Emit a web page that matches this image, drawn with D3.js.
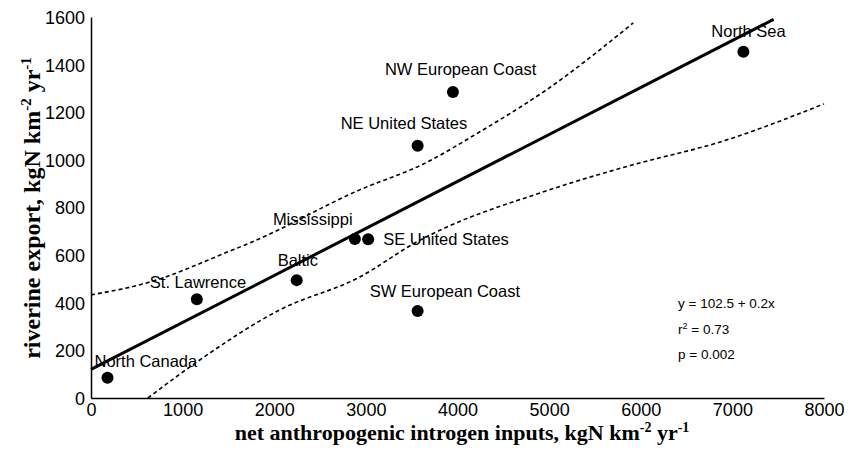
<!DOCTYPE html>
<html>
<head>
<meta charset="utf-8">
<script src="https://cdn.jsdelivr.net/npm/d3@7"></script>
<style>
  html, body { margin: 0; padding: 0; background: #fff; }
  svg { display: block; }
</style>
</head>
<body>
<svg id="chart" width="850" height="458"></svg>
<script>
// ---- data ----
const regions = ["North Canada", "St. Lawrence", "Baltic", "Mississippi", "SE United States",
                 "SW European Coast", "NE United States", "NW European Coast", "North Sea"];
const nInputs = [180, 1155, 2245, 2880, 3025, 3565, 3565, 3950, 7120];
const nExport = [85, 415, 495, 668, 667, 365, 1059, 1285, 1454];

const fitX = [0, 7450];
const fitY = [120, 1590];

const upperX = [0, 643, 1515, 1733, 2932, 3629, 4240, 4970, 5918];
const upperY = [433, 487, 617, 651, 874, 983, 1117, 1294, 1575];
const lowerX = [621, 1155, 2060, 2932, 3553, 5003, 5864, 6899, 8000];
const lowerY = [0, 151, 370, 508, 655, 874, 974, 1079, 1235];

const xTicks = [0, 1000, 2000, 3000, 4000, 5000, 6000, 7000, 8000];
const yTicks = [0, 200, 400, 600, 800, 1000, 1200, 1400, 1600];

const statLines = ["y = 102.5 + 0.2x", "r2 = 0.73", "p = 0.002"];

// ---- chart ----
const svg = d3.select("#chart");
const x = d3.scaleLinear().domain([0, 8000]).range([91, 824]);
const y = d3.scaleLinear().domain([0, 1600]).range([398, 17]);

const sans = "'Liberation Sans', Arial, Helvetica, sans-serif";
const serif = "'Liberation Serif', 'Times New Roman', serif";

// axes
const gx = svg.append("g").attr("transform", `translate(0,${y(0)})`)
  .call(d3.axisBottom(x).tickValues(xTicks).tickSize(0).tickSizeOuter(0).tickPadding(5).tickFormat(d3.format("d")));
const gy = svg.append("g").attr("transform", `translate(${x(0)},0)`)
  .call(d3.axisLeft(y).tickValues(yTicks).tickSize(0).tickSizeOuter(0).tickPadding(6).tickFormat(d3.format("d")));
[gx, gy].forEach(g => {
  g.select(".domain").attr("stroke", "#000").attr("stroke-width", 1.5);
  g.selectAll("text").attr("fill", "#000").style("font-family", sans).style("font-size", "18px");
});
gy.selectAll(".tick text").attr("dy", "0.36em");

// confidence bands
const line = d3.line().x(d => x(d[0])).y(d => y(d[1])).curve(d3.curveMonotoneX);
svg.append("path").datum(upperX.map((v, i) => [v, upperY[i]]))
  .attr("d", line).attr("fill", "none").attr("stroke", "#000")
  .attr("stroke-width", 1.6).attr("stroke-dasharray", "4,3");
svg.append("path").datum(lowerX.map((v, i) => [v, lowerY[i]]))
  .attr("d", line).attr("fill", "none").attr("stroke", "#000")
  .attr("stroke-width", 1.6).attr("stroke-dasharray", "4,3");

// regression line
svg.append("path").datum(fitX.map((v, i) => [v, fitY[i]]))
  .attr("d", d3.line().x(d => x(d[0])).y(d => y(d[1])))
  .attr("fill", "none").attr("stroke", "#000").attr("stroke-width", 3);

// points
svg.append("g").selectAll("circle").data(regions).join("circle")
  .attr("cx", (d, i) => x(nInputs[i]))
  .attr("cy", (d, i) => y(nExport[i]))
  .attr("r", 6).attr("fill", "#000");

// point labels (offsets relative to point, in px)
const labelOffsets = {
  "North Canada": [-13, -11],
  "St. Lawrence": [-47, -11],
  "Baltic": [-19, -14],
  "Mississippi": [-82, -14],
  "SE United States": [15, 6],
  "SW European Coast": [-48, -14],
  "NE United States": [-77, -17],
  "NW European Coast": [-68, -17],
  "North Sea": [-32, -15]
};
svg.append("g").selectAll("text").data(regions).join("text")
  .attr("x", (d, i) => x(nInputs[i]) + labelOffsets[d][0])
  .attr("y", (d, i) => y(nExport[i]) + labelOffsets[d][1])
  .style("font-family", sans).style("font-size", "16.5px").attr("fill", "#000")
  .text(d => d);

// stats
const st = svg.append("g").style("font-family", sans).style("font-size", "13.5px").attr("fill", "#000");
st.append("text").attr("x", 678).attr("y", 308).text(statLines[0]);
const r2 = st.append("text").attr("x", 678).attr("y", 334);
r2.append("tspan").text("r");
r2.append("tspan").attr("dy", -5).style("font-size", "9px").text("2");
r2.append("tspan").attr("dy", 5).text(" = 0.73");
st.append("text").attr("x", 678).attr("y", 359).text(statLines[2]);

// axis titles
const xt = svg.append("text").attr("x", 462).attr("y", 440).attr("text-anchor", "middle")
  .style("font-family", serif).style("font-weight", "bold").style("font-size", "22px").attr("fill", "#000");
xt.append("tspan").text("net anthropogenic introgen inputs, kgN km");
xt.append("tspan").attr("dy", -8).style("font-size", "14px").text("-2");
xt.append("tspan").attr("dy", 8).text(" yr");
xt.append("tspan").attr("dy", -8).style("font-size", "14px").text("-1");

const yt = svg.append("text").attr("transform", "translate(40,208) rotate(-90)").attr("text-anchor", "middle")
  .style("font-family", serif).style("font-weight", "bold").style("font-size", "24px").attr("fill", "#000");
yt.append("tspan").text("riverine export, kgN km");
yt.append("tspan").attr("dy", -9).style("font-size", "15px").text("-2");
yt.append("tspan").attr("dy", 9).text(" yr");
yt.append("tspan").attr("dy", -9).style("font-size", "15px").text("-1");
</script>
</body>
</html>
